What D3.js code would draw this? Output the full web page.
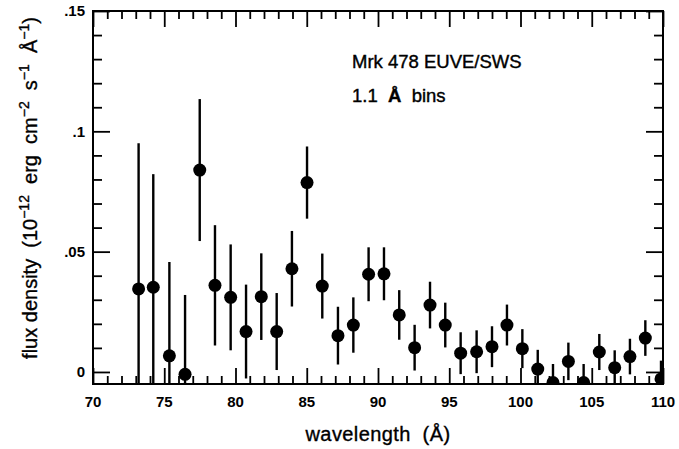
<!DOCTYPE html>
<html>
<head>
<meta charset="utf-8">
<script src="https://cdn.jsdelivr.net/npm/d3@7"></script>
<style>
  body { margin: 0; background: #fff; }
  text { font-family: "Liberation Sans", Arial, Helvetica, sans-serif; fill: #000; }
  .tick-label { font-size: 15px; font-weight: bold; }
  .axis-label { font-size: 20px; white-space: pre; stroke: #000; stroke-width: 0.35; }
  .note { font-size: 18.5px; white-space: pre; stroke: #000; stroke-width: 0.4; }
</style>
</head>
<body>
<svg id="chart" width="679" height="449"></svg>
<script>
// bin centres (Å), flux density and 1-sigma errors
const wavelength = [73.2, 74.23, 75.36, 76.46, 77.49, 78.56, 79.66, 80.74, 81.81, 82.89,
  83.96, 85.02, 86.09, 87.19, 88.27, 89.34, 90.42, 91.49, 92.57, 93.65, 94.72, 95.8,
  96.92, 98.0, 99.05, 100.13, 101.21, 102.28, 103.36, 104.43, 105.53, 106.61, 107.68,
  108.76, 109.86];
const flux = [0.0345, 0.0352, 0.0067, -0.001, 0.0839, 0.036, 0.031, 0.0168, 0.0313, 0.0168,
  0.0429, 0.0787, 0.0357, 0.0151, 0.0195, 0.0406, 0.0408, 0.0237, 0.0101, 0.0278, 0.0195,
  0.0078, 0.0084, 0.0105, 0.0195, 0.0097, 0.0012, -0.0044, 0.0044, -0.0044, 0.0083,
  0.0018, 0.0064, 0.0141, -0.0029];
const fluxErr = [0.0605, 0.047, 0.039, 0.033, 0.0295, 0.025, 0.022, 0.0195, 0.018, 0.016,
  0.0157, 0.015, 0.0135, 0.012, 0.0115, 0.0112, 0.011, 0.0103, 0.0095, 0.0097, 0.0093,
  0.0087, 0.0089, 0.0085, 0.0085, 0.0081, 0.008, 0.0077, 0.0078, 0.0077, 0.0075, 0.0072,
  0.0074, 0.0074, 0.0076];

const xMajorTicks = [70, 75, 80, 85, 90, 95, 100, 105, 110];
const yMajorTicks = [0, 0.05, 0.1, 0.15];
const yTickLabels = ["0", ".05", ".1", ".15"];

const data = wavelength.map((w, i) => ({ w, f: flux[i], e: fluxErr[i] }));

const svg = d3.select("#chart");
const margin = { top: 11, right: 16, bottom: 65, left: 93 };
const width = 679 - margin.left - margin.right;
const height = 449 - margin.top - margin.bottom;

const x = d3.scaleLinear().domain([70, 110]).range([0, width]);
const y = d3.scaleLinear().domain([-0.005, 0.15]).range([height, 0]);

const chart = svg.append("g")
  .attr("transform", `translate(${margin.left},${margin.top})`);

svg.append("defs").append("clipPath")
  .attr("id", "plot-clip")
  .append("rect")
  .attr("width", width)
  .attr("height", height);

const xMinor = d3.range(70, 111, 1).filter((d) => !xMajorTicks.includes(d));
const yMinor = d3.range(0, 16, 1).map((d) => d / 100).filter((d) => Math.round(d * 100) % 5 !== 0);

// inward ticks on all four sides
function ticks(axisFn, scale, values, size, offset) {
  const g = chart.append("g")
    .attr("transform", offset)
    .call(axisFn(scale).tickValues(values).tickSize(-size).tickFormat(""));
  g.select(".domain").remove();
  g.selectAll("line").attr("stroke", "#000").attr("stroke-width", 1.8);
}
ticks(d3.axisBottom, x, xMinor, 8, `translate(0,${height})`);
ticks(d3.axisBottom, x, xMajorTicks, 16, `translate(0,${height})`);
ticks(d3.axisTop, x, xMinor, 8, "translate(0,0)");
ticks(d3.axisTop, x, xMajorTicks, 16, "translate(0,0)");
ticks(d3.axisLeft, y, yMinor, 9, "translate(0,0)");
ticks(d3.axisLeft, y, yMajorTicks, 17, "translate(0,0)");
ticks(d3.axisRight, y, yMinor, 9, `translate(${width},0)`);
ticks(d3.axisRight, y, yMajorTicks, 17, `translate(${width},0)`);

chart.append("rect")
  .attr("width", width)
  .attr("height", height)
  .attr("fill", "none")
  .attr("stroke", "#000")
  .attr("stroke-width", 2);

// tick labels
chart.append("g")
  .selectAll("text")
  .data(xMajorTicks)
  .join("text")
  .attr("class", "tick-label")
  .attr("x", (d) => x(d))
  .attr("y", height + 23)
  .attr("text-anchor", "middle")
  .text((d) => d);

chart.append("g")
  .selectAll("text")
  .data(yMajorTicks)
  .join("text")
  .attr("class", "tick-label")
  .attr("x", -8)
  .attr("y", (d) => y(d))
  .attr("dy", "0.36em")
  .attr("text-anchor", "end")
  .text((d, i) => yTickLabels[i]);

// data
const marks = chart.append("g").attr("clip-path", "url(#plot-clip)");

marks.selectAll("line")
  .data(data)
  .join("line")
  .attr("x1", (d) => x(d.w))
  .attr("x2", (d) => x(d.w))
  .attr("y1", (d) => y(d.f - d.e))
  .attr("y2", (d) => y(d.f + d.e))
  .attr("stroke", "#000")
  .attr("stroke-width", 2.4);

marks.selectAll("circle")
  .data(data)
  .join("circle")
  .attr("cx", (d) => x(d.w))
  .attr("cy", (d) => y(d.f))
  .attr("r", 6.5)
  .attr("fill", "#000");

// annotations
chart.append("text")
  .attr("class", "note")
  .attr("x", 259)
  .attr("y", 57)
  .text("Mrk 478 EUVE/SWS");

const binNote = chart.append("text")
  .attr("class", "note")
  .attr("x", 259)
  .attr("y", 91);
binNote.append("tspan").text("1.1  ");
binNote.append("tspan").attr("font-weight", "bold").text("Å");
binNote.append("tspan").text("  bins");

// axis titles
svg.append("text")
  .attr("class", "axis-label")
  .attr("x", margin.left + width / 2)
  .attr("y", 441)
  .attr("text-anchor", "middle")
  .attr("letter-spacing", 0.4)
  .text("wavelength  (Å)");

const yTitle = svg.append("text")
  .attr("class", "axis-label")
  .attr("transform", "translate(37,188) rotate(-90)")
  .attr("text-anchor", "middle");
yTitle.append("tspan").text("flux density  (10");
yTitle.append("tspan").attr("dy", -8).attr("font-size", 14).text("−12");
yTitle.append("tspan").attr("dy", 8).text("  erg  cm");
yTitle.append("tspan").attr("dy", -8).attr("font-size", 14).text("−2");
yTitle.append("tspan").attr("dy", 8).text("  s");
yTitle.append("tspan").attr("dy", -8).attr("font-size", 14).text("−1");
yTitle.append("tspan").attr("dy", 8).text("  Å");
yTitle.append("tspan").attr("dy", -8).attr("font-size", 14).text("−1");
yTitle.append("tspan").attr("dy", 8).text(")");
</script>
</body>
</html>
